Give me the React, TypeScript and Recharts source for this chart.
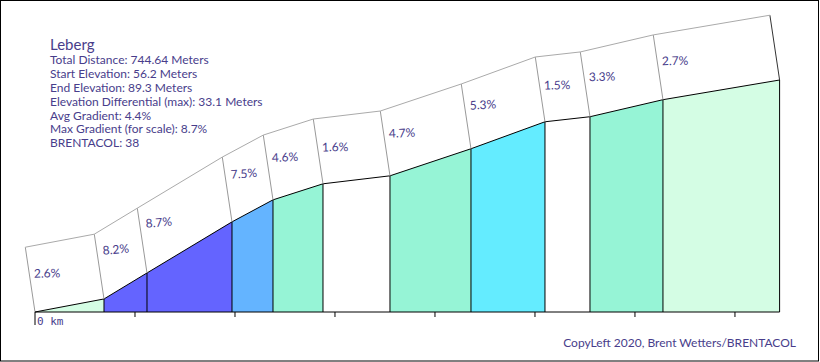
import React from 'react'
import { ComposedChart, Area, XAxis, YAxis, ReferenceLine, Scatter } from 'recharts'

// distance along the climb (m) at each segment boundary, and the elevation there (m)
const distances = [0, 69, 112, 197, 238, 288, 355, 436, 510, 555, 628, 744.64]
const elevations = [56.2, 58.06, 61.77, 69.06, 72.2, 74.49, 75.63, 79.49, 83.34, 84.06, 86.49, 89.3]
// gradient of each segment (%)
const gradients = [2.6, 8.2, 8.7, 7.5, 4.6, 1.6, 4.7, 5.3, 1.5, 3.3, 2.7]
const distTicks = [0, 100, 200, 300, 400, 500, 600, 700]

const infoLines = [
  'Total Distance: 744.64 Meters',
  'Start Elevation: 56.2 Meters',
  'End Elevation: 89.3 Meters',
  'Elevation Differential (max): 33.1 Meters',
  'Avg Gradient: 4.4%',
  'Max Gradient (for scale): 8.7%',
  'BRENTACOL: 38',
]

const TOTAL = distances[distances.length - 1]
const W = 820
const H = 362
const TEXT = '#483d8b'
const FONT = 'Lato, "Open Sans", sans-serif'
// 3d "box" depth, in axis units (≈ -9.7px, -64.7px)
const DX = -9.7
const DY = 64.7 / 7

function colorFor(g: number) {
  if (g >= 8) return '#6464ff'
  if (g >= 7) return '#64b4ff'
  if (g >= 5) return '#64ecff'
  if (g >= 3) return '#96f4d6'
  if (g >= 2) return '#d4fde4'
  return '#ffffff'
}

const profile = distances.map((d, i) => ({ dist: d, elev: elevations[i] }))
const labelPts = gradients.map((g, i) => ({ dist: distances[i], elev: elevations[i], g }))

const DistTick = (props: any) => {
  const { x, y, payload } = props
  const first = payload.value === 0
  return (
    <g>
      <line x1={x} x2={x} y1={y} y2={y + (first ? 13 : 5)} stroke="#000" />
      {first && (
        <text x={x + 2} y={y + 13} fontSize={11} fill={TEXT} fontFamily='"DejaVu Sans Mono", monospace'>0 km</text>
      )}
    </g>
  )
}

const GradLabel = (props: any) => {
  const { cx, cy, payload } = props
  const g = payload.g
  const ty = cy - (33.5 + 1.8 * g) + 4
  const ang = -Math.atan(g / 100) * 180 / Math.PI
  return (
    <text x={cx - 1} y={ty} fontSize={12} fill={TEXT} fontFamily={FONT} transform={`rotate(${ang}, ${cx - 1}, ${ty})`}>
      {`${g}%`}
    </text>
  )
}

export default function App() {
  return (
    <div style={{ position: 'absolute', left: 0, top: 0, width: W, height: H, background: '#fff' }}>
      <ComposedChart width={W} height={H} data={profile} margin={{ top: 80, right: 40.4, bottom: 0, left: 35 }}>
        <defs>
          <linearGradient id="profileFill" x1="0" y1="0" x2="1" y2="0">
            {gradients.flatMap((g, i) => [
              <stop key={`a${i}`} offset={distances[i] / TOTAL} stopColor={colorFor(g)} />,
              <stop key={`b${i}`} offset={distances[i + 1] / TOTAL} stopColor={colorFor(g)} />,
            ])}
          </linearGradient>
        </defs>
        <XAxis
          type="number"
          dataKey="dist"
          domain={[0, TOTAL]}
          ticks={distTicks}
          height={50}
          tickLine={false}
          tickSize={0}
          tickMargin={0}
          tick={<DistTick />}
          axisLine={{ stroke: '#000' }}
          interval={0}
        />
        <YAxis type="number" dataKey="elev" domain={[56.2, 89.3]} hide />
        <Area
          type="linear"
          dataKey="elev"
          baseValue="dataMin"
          stroke="#000"
          strokeWidth={1}
          fill="url(#profileFill)"
          fillOpacity={1}
          isAnimationActive={false}
          dot={false}
          activeDot={false}
        />
        {distances.slice(1).map((d, k) => (
          <ReferenceLine
            key={`v${k}`}
            segment={[{ x: d, y: 56.2 }, { x: d, y: elevations[k + 1] }]}
            stroke="#000"
            ifOverflow="visible"
          />
        ))}
        {distances.map((d, i) => (
          <ReferenceLine
            key={`s${i}`}
            segment={[{ x: d, y: elevations[i] }, { x: d + DX, y: elevations[i] + DY }]}
            stroke={i === distances.length - 1 ? '#333' : '#999'}
            ifOverflow="visible"
          />
        ))}
        {gradients.map((_, i) => (
          <ReferenceLine
            key={`t${i}`}
            segment={[
              { x: distances[i] + DX, y: elevations[i] + DY },
              { x: distances[i + 1] + DX, y: elevations[i + 1] + DY },
            ]}
            stroke="#aaa"
            ifOverflow="visible"
          />
        ))}
        <Scatter data={labelPts} dataKey="elev" shape={<GradLabel />} isAnimationActive={false} />
      </ComposedChart>
      <svg width={W} height={H} style={{ position: 'absolute', left: 0, top: 0, pointerEvents: 'none' }}>
        <rect x={0.5} y={0.5} width={818} height={360.5} fill="none" stroke="#000" />
        <text x={50} y={50} fontSize={15} fill={TEXT} fontFamily={FONT}>Leberg</text>
        {infoLines.map((t, i) => (
          <text key={t} x={50} y={64.3 + i * 13.8} fontSize={12} fill={TEXT} fontFamily={FONT}>{t}</text>
        ))}
        <text x={796} y={346.7} fontSize={12} textAnchor="end" fill={TEXT} fontFamily={FONT}>
          CopyLeft 2020, Brent Wetters/BRENTACOL
        </text>
      </svg>
    </div>
  )
}
